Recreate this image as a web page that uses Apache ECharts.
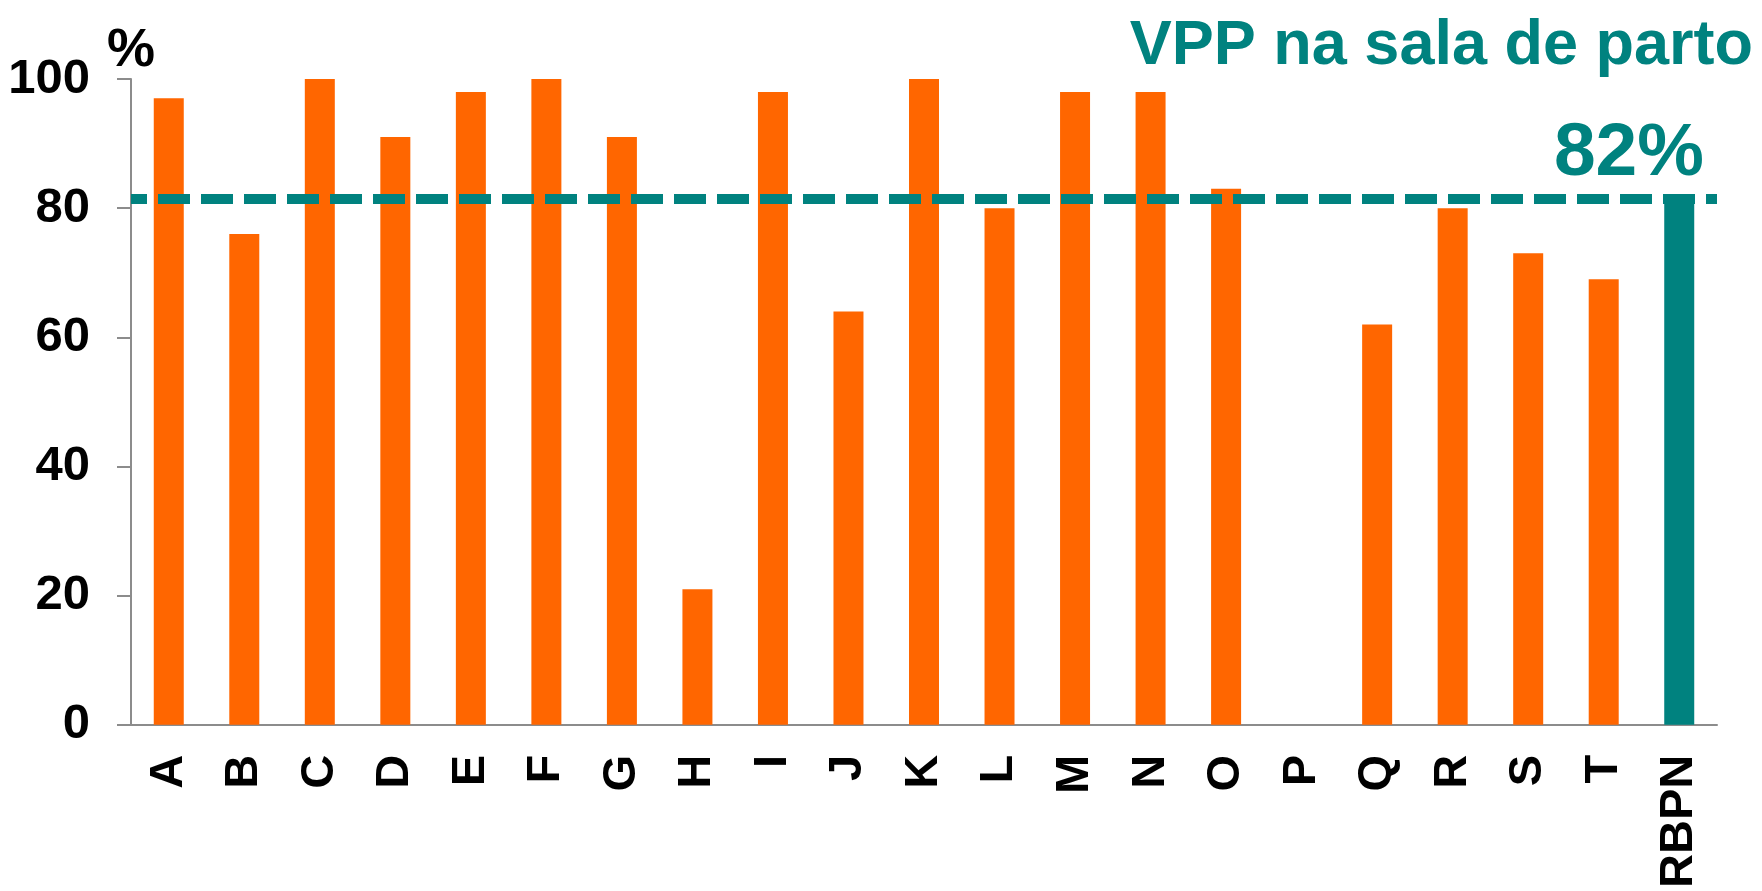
<!DOCTYPE html>
<html>
<head>
<meta charset="utf-8">
<script src="https://cdn.jsdelivr.net/npm/echarts@6/dist/echarts.min.js"></script>
<style>
  html, body { margin: 0; padding: 0; background: #fff; }
  #chart { width: 1762px; height: 891px; }
</style>
</head>
<body>
<div id="chart"></div>
<script>
// categorias (hospitais) e % de VPP na sala de parto
const categories = ['A', 'B', 'C', 'D', 'E', 'F', 'G', 'H', 'I', 'J', 'K', 'L', 'M', 'N', 'O', 'P', 'Q', 'R', 'S', 'T', 'RBPN'];
const values = [97, 76, 100, 91, 98, 100, 91, 21, 98, 64, 100, 80, 98, 98, 83, null, 62, 80, 73, 69, 82];
const rbpnMean = 81.5;
const yTicks = [0, 20, 40, 60, 80, 100];

const ORANGE = '#FF6600';
const TEAL = '#00827F';
const AXIS = '#8c8c8c';
const FONT = 'Liberation Sans, Arial, sans-serif';

const chart = echarts.init(document.getElementById('chart'));

const option = {
    backgroundColor: '#fff',
    animation: false,
    title: [
        {
            text: 'VPP na sala de parto',
            right: 9,
            top: 15,
            padding: 0,
            textStyle: { color: TEAL, fontSize: 63, fontWeight: 'bold', fontFamily: FONT }
        },
        {
            text: '82%',
            right: 58,
            top: 117,
            padding: 0,
            textStyle: { color: TEAL, fontSize: 75, fontWeight: 'bold', fontFamily: FONT }
        },
        {
            text: '%',
            left: 107,
            top: 24,
            padding: 0,
            textStyle: { color: '#000', fontSize: 54, fontWeight: 'bold', fontFamily: FONT }
        }
    ],
    grid: {
        left: 131,
        right: 45,
        top: 79,
        bottom: 163,
        containLabel: false
    },
    xAxis: {
        type: 'category',
        data: categories,
        //坐标轴线
        axisLine: { lineStyle: { color: AXIS, width: 2 } },
        axisTick: { length: 15, lineStyle: { color: AXIS, width: 2 } },
        axisLabel: {
            rotate: 90,
            margin: 30,
            interval: 0,
            color: '#000',
            fontSize: 47,
            fontWeight: 'bold',
            fontFamily: FONT
        }
    },
    yAxis: {
        type: 'value',
        min: yTicks[0],
        max: yTicks[yTicks.length - 1],
        interval: 20,
        splitLine: { show: false },
        axisLine: { show: true, lineStyle: { color: AXIS, width: 2 } },
        axisTick: { show: true, length: 14, lineStyle: { color: AXIS, width: 2 } },
        axisLabel: {
            margin: 41,
            color: '#000',
            fontSize: 49,
            fontWeight: 'bold',
            fontFamily: FONT
        }
    },
    series: [
        {
            type: 'bar',
            barWidth: 30,
            data: values.map((v, i) => ({
                value: v,
                itemStyle: { color: categories[i] === 'RBPN' ? TEAL : ORANGE }
            })),
            markLine: {
                silent: true,
                symbol: 'none',
                label: { show: false },
                lineStyle: {
                    color: TEAL,
                    width: 10,
                    type: [32, 11],
                    dashOffset: 16
                },
                data: [{ yAxis: rbpnMean }]
            }
        }
    ]
};

chart.setOption(option);
</script>
</body>
</html>
